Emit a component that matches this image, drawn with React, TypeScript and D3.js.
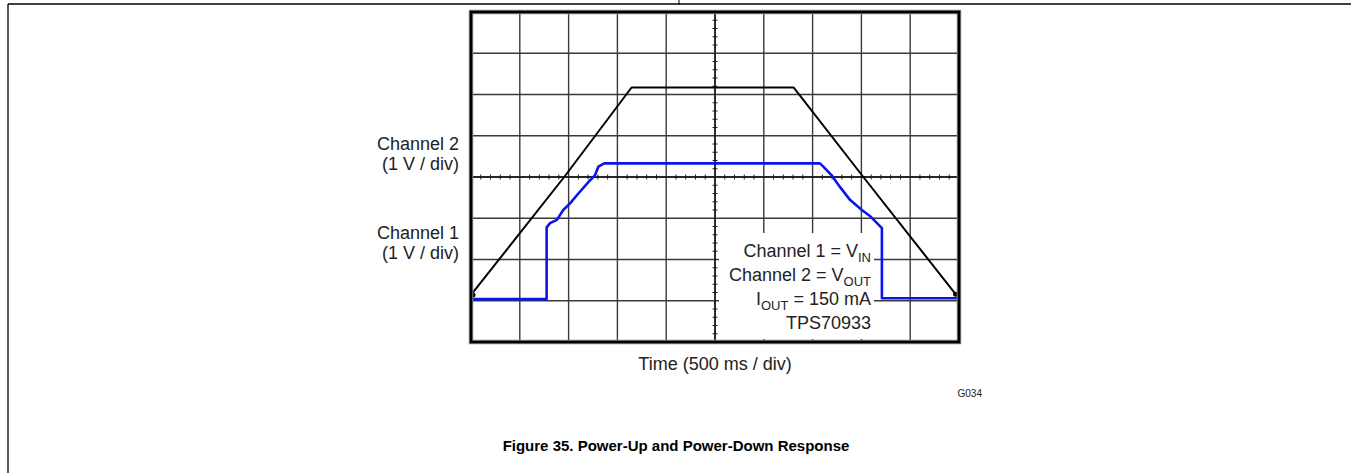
import React from 'react';
import * as d3 from 'd3';

// scope screen: 10 horizontal divisions of 500 ms, 8 vertical divisions of 1 V
const timeDivs = d3.range(0, 11);
const voltDivs = d3.range(0, 9);

// Channel 1 (black trace) - time in ms, level in divisions from the bottom
const ch1Time = [0, 955, 1645, 3305, 4020, 4965, 5000];
const ch1Level = [1.14, 4.0, 6.17, 6.17, 4.0, 1.16, 1.14];

// Channel 2 (blue trace)
const ch2Time = [0, 775, 775, 810, 880, 945, 1015, 1100, 1205, 1270, 1305, 1365,
  3575, 3610, 3695, 3780, 3885, 4005, 4090, 4210, 4210, 5000];
const ch2Level = [1.04, 1.04, 2.78, 2.88, 2.96, 3.2, 3.36, 3.6, 3.88, 4.04, 4.25, 4.33,
  4.33, 4.25, 4.04, 3.76, 3.44, 3.2, 3.05, 2.76, 1.06, 1.06];

const legendLines = [
  { text: 'Channel 1 = V', sub: 'IN', after: '' },
  { text: 'Channel 2 = V', sub: 'OUT', after: '' },
  { text: 'I', sub: 'OUT', after: ' = 150 mA' },
  { text: 'TPS70933', sub: '', after: '' },
];

const W = 1351;
const H = 473;
const left = 471;
const right = 959;
const top = 12;
const bottom = 342;
const font = 'Liberation Sans, Arial, sans-serif';

export default function App() {
  const x = d3.scaleLinear().domain([0, 5000]).range([left, right]);
  const y = d3.scaleLinear().domain([0, 8]).range([bottom, top]);
  const xDiv = d3.scaleLinear().domain([0, 10]).range([left, right]);

  const line = d3.line<[number, number]>()
    .x(d => x(d[0]))
    .y(d => y(d[1]));

  const ch1 = ch1Time.map((t, i) => [t, ch1Level[i]] as [number, number]);
  const ch2 = ch2Time.map((t, i) => [t, ch2Level[i]] as [number, number]);

  const cx = xDiv(5);
  const cy = y(4);
  // minor ticks on the centre cross
  const hTicks = d3.range(0, 10.001, 0.2).filter(v => Math.abs(v - Math.round(v)) > 0.01);
  const vTicks = d3.range(0, 8.001, 0.2).filter(v => Math.abs(v - Math.round(v)) > 0.01);

  return (
    <svg width={W} height={H} style={{ position: 'absolute', left: 0, top: 0, background: '#fff' }}
      fontFamily={font}>
      {/* page frame */}
      <line x1={8} x2={W} y1={4} y2={4} stroke="#000" strokeWidth={1.3} />
      <line x1={8} x2={8} y1={4} y2={H} stroke="#000" strokeWidth={1.3} />
      <line x1={679} x2={679} y1={0} y2={5} stroke="#000" strokeWidth={1} />

      {/* grid */}
      <g>
        {timeDivs.slice(1, -1).map(d => (
          <line key={'v' + d} x1={xDiv(d)} x2={xDiv(d)} y1={top} y2={bottom}
            stroke="#3a3a3a" strokeWidth={1.4} />
        ))}
        {voltDivs.slice(1, -1).map(d => (
          <line key={'h' + d} x1={left} x2={right} y1={y(d)} y2={y(d)}
            stroke="#3a3a3a" strokeWidth={1.4} />
        ))}
        {hTicks.map(v => (
          <line key={'ht' + v} x1={xDiv(v)} x2={xDiv(v)} y1={cy - 2.5} y2={cy + 2.5}
            stroke="#222" strokeWidth={1} />
        ))}
        {vTicks.map(v => (
          <line key={'vt' + v} x1={cx - 2.5} x2={cx + 2.5} y1={y(v)} y2={y(v)}
            stroke="#222" strokeWidth={1} />
        ))}
        <line x1={cx} x2={cx} y1={top} y2={bottom} stroke="#111" strokeWidth={1.4} />
        <line x1={left} x2={right} y1={cy} y2={cy} stroke="#111" strokeWidth={1.4} />
      </g>

      {/* traces */}
      <path d={line(ch2) ?? ''} fill="none" stroke="#0a14f0" strokeWidth={2.6} strokeLinejoin="round" />
      <path d={line(ch1) ?? ''} fill="none" stroke="#000" strokeWidth={2} strokeLinejoin="round" />
      <circle cx={x(ch1Time[0]) + 2} cy={y(ch1Level[0])} r={2.5} fill="#000" />
      <circle cx={x(ch1Time[ch1Time.length - 2])} cy={y(ch1Level[ch1Level.length - 2])} r={2.5} fill="#000" />

      {/* legend box */}
      <rect x={719} y={233} width={155} height={106} fill="#fff" />
      <g fontSize={18} fill="#222" textAnchor="end">
        {legendLines.map((l, i) => (
          <text key={i} x={871} y={257 + i * 24}>
            {l.text}
            {l.sub && <tspan fontSize={13} dy={5}>{l.sub}</tspan>}
            {l.after && <tspan dy={-5}>{l.after}</tspan>}
          </text>
        ))}
      </g>

      {/* screen border */}
      <rect x={left} y={top} width={right - left} height={bottom - top} fill="none"
        stroke="#888" strokeWidth={4.5} />
      <rect x={left} y={top} width={right - left} height={bottom - top} fill="none"
        stroke="#000" strokeWidth={2.6} />

      {/* axis labels */}
      <g fontSize={18} fill="#222" textAnchor="end">
        <text x={459} y={150}>Channel 2</text>
        <text x={459} y={170}>(1 V / div)</text>
        <text x={459} y={239}>Channel 1</text>
        <text x={459} y={259}>(1 V / div)</text>
      </g>
      <text x={cx} y={370} fontSize={18} fill="#222" textAnchor="middle">Time (500 ms / div)</text>
      <text x={982} y={397} fontSize={10} fill="#222" textAnchor="end">G034</text>
      <text x={676} y={451} fontSize={15} fontWeight="bold" fill="#000" textAnchor="middle">
        Figure 35. Power-Up and Power-Down Response
      </text>
    </svg>
  );
}
